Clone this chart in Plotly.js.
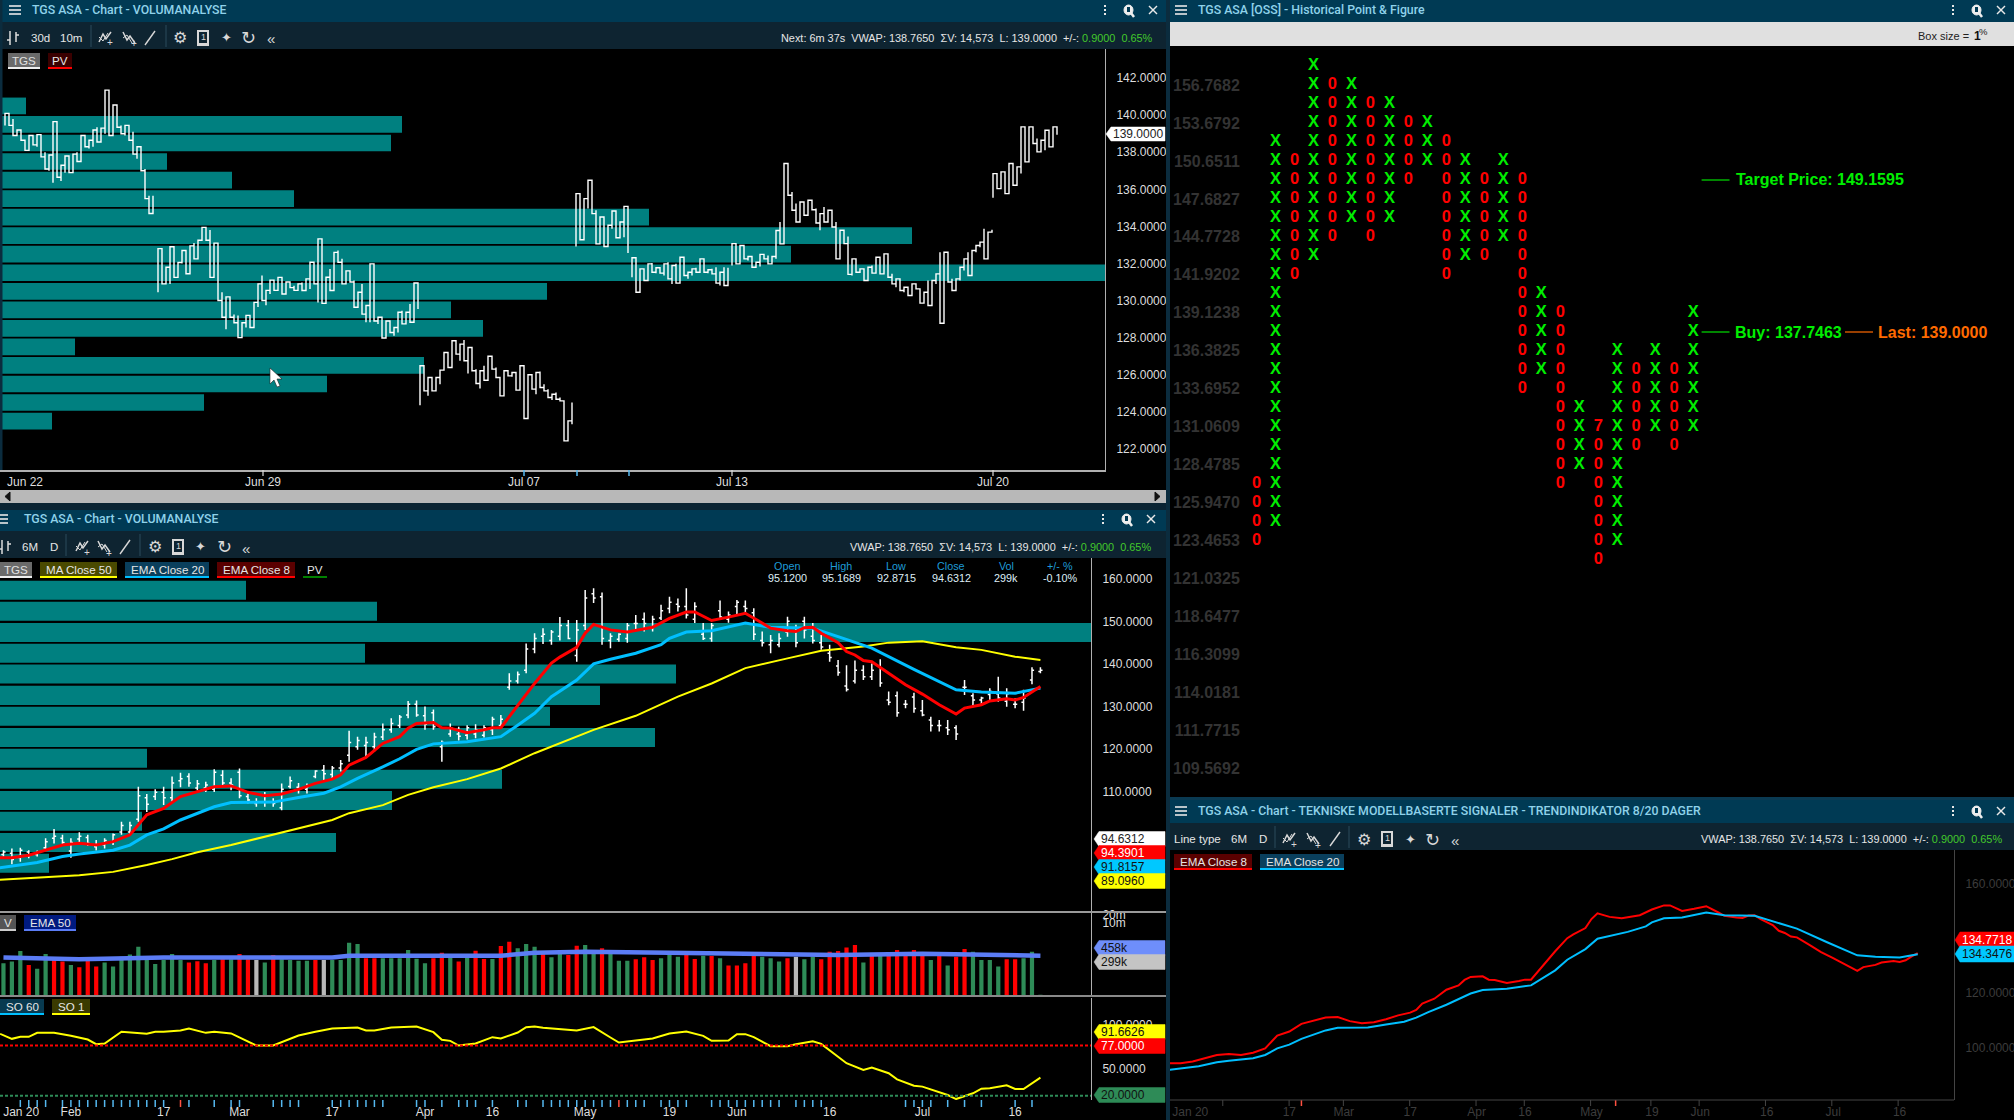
<!DOCTYPE html>
<html><head><meta charset="utf-8">
<script src="https://cdn.plot.ly/plotly-3.0.1.min.js"></script>
<style>html,body{margin:0;padding:0;background:#000}#c{width:2014px;height:1120px}</style>
</head><body><div id="c"></div>
<script>
// ---------- Top-left: 10-minute bars by session (high / low) ----------
const sessionStart=[5,158,420,576,632,732,993];
const hi1=[140.1,139.8,139.8,139.2,139.1,138.65,138.9,138.95,138.95,138.4,138.0,137.85,139.65,137.85,137.3,137.8,137.3,137.9,138.0,138.9,138.75,138.65,139.2,139.35,139.3,141.35,140.1,140.55,140.35,139.45,139.45,139.1,139.1,138.3,137.75,137.1,135.65,135.65];
const lo1=[139.45,139.45,138.9,138.9,138.65,138.1,138.15,138.4,138.3,137.75,137.1,137.0,136.35,136.65,136.45,136.9,136.9,137.2,137.5,137.65,138.3,138.2,138.3,138.55,139.1,139.0,138.9,138.9,139.35,139.0,138.9,138.65,137.9,137.65,137.0,135.5,134.7,134.7];
const hi2=[132.8,131.8,131.8,132.9,131.9,132.05,132.7,132.5,132.95,133.1,133.25,133.95,133.8,133.8,133.1,132.25,130.45,130.2,129.35,129.25,129.2,128.8,129.2,129.1,129.9,130.9,131.35,130.55,131.1,131.1,131.25,131.1,131,131,130.8,130.9,130.98,131.17,132.07,131.6,133.33,131.53,131.26,131.7,132.6,132.7,132.25,131.6,131.6,131.08,130.45,130.9,129.73,131.98,129.82,129.1,128.82,128.9,128.74,128.55,129.37,129.45,129.37,129.82,130.95,130.35];
const lo2=[130.45,130.9,130.9,130.9,131.25,131.8,132.0,131.45,132.4,132.25,132.7,133.25,133.25,131.25,131.8,130,129.1,128.45,129.1,128.8,128.0,128.1,128.55,128.55,129.1,129.65,130,129.75,130.35,130.55,130.8,130.35,130.7,130.7,130.55,130.55,130.54,130.8,130.63,130.9,129.9,129.85,130.72,130.54,131.62,132.07,130.9,130.9,131,129.64,129.64,129.27,128.83,128.83,128.9,128.74,127.98,128.46,128.28,128.1,128.28,128.74,128.9,128.83,129.5,129.55];
const hi3=[126.48,126.07,125.85,125.85,125.85,126.25,127.2,127,127.83,127.83,127.65,127.87,127.47,127.47,126.3,126.21,126.48,127,126.57,126.39,125.85,126.21,126.21,126.12,126.12,126.48,125.49,126,125.94,126.12,126.18,125.49,125.22,124.95,125.04,124.77,123.55,123.51,124.5];
const lo3=[124.35,125.13,124.86,125.13,125.49,125.49,126.39,126.39,126.39,127.11,126.75,126.75,126.07,126.21,125.53,125.26,125.7,126.39,126.3,125.85,124.86,125.35,125.94,125.89,125.17,125.49,123.64,124.8,125.22,124.95,125.31,125.13,124.77,124.63,124.68,124.59,122.43,122.57,123.33];
const hi4=[135.77,134.87,135.5,136.49,136.13,134.87,134.51,134.06,134.06,134.83,134.33,134.24,135.08,134.38];
const lo4=[132.92,133.28,133.5,134.96,134.69,133.06,133.79,132.92,133.15,133.87,133.39,133.39,133.42,132.56];
const hi5=[132.31,131.71,131.71,131.53,131.98,132.02,131.77,131.71,131.98,132.07,131.89,131.98,132.34,131.98,131.53,131.71,131.77,132.25,131.98,131.66,131.71,131.8,131.53,131.8,131.77];
const lo5=[131.26,130.45,131.26,131.08,131.26,131.53,131.48,131.48,131.35,131.17,130.9,130.94,130.94,131.35,131.17,131.35,131.53,131.71,131.53,131.48,131.44,130.94,130.81,130.81,130.81];
const hi6=[133.07,132.88,132.97,132.61,132.38,132.34,132.07,132.49,132.52,132.43,132.38,133.78,134.24,137.39,136.22,135.86,135.23,135.32,135.23,135.41,135.41,134.96,134.69,135.05,134.87,134.69,134.24,133.79,133.79,133.46,132.25,131.8,131.71,131.66,131.8,131.89,132.34,132.34,132.52,132.52,131.44,131.17,130.81,130.72,130.63,130.9,130.9,130.63,130.45,131.08,131.08,131.44,132.61,132.61,131.71,131.17,131.17,131.8,132.25,132.61,132.7,132.97,133.15,133.87,133.69,133.82];
const lo6=[131.89,131.98,132.34,132.25,132.16,131.8,131.84,131.84,132.25,131.98,132.25,132.25,133.06,135.59,135.68,134.87,134.24,134.69,134.6,134.6,134.9,134.18,133.79,134.24,134.24,133.97,132.25,132.52,133.07,131.41,131.35,131.53,131.53,131.08,131.53,131.48,131.44,131.44,131.44,131.26,130.9,130.72,130.54,130.45,130.27,130.54,130.63,129.86,129.91,129.73,130.36,130.9,128.78,131.44,131,130.54,130.72,131.08,131.62,131.35,132.52,132.61,132.88,132.25,132.88,133.7];
const hi7=[136.85,136.85,136.94,136.85,137.39,137.03,137.21,139.37,139.19,139.37,139.19,138.74,138.65,139.19,139.19,139.37,139.01];
const lo7=[135.55,136.04,136.22,135.77,136.49,136.22,136.85,136.85,137.48,138.2,138.47,138.02,138.02,138.11,138.29,138.97,138.94];
const vpAPrice=[140.5,139.5,138.5,137.5,136.5,135.5,134.5,133.5,132.5,131.5,130.5,129.5,128.5,127.5,126.5,125.5,124.5,123.5];
const vpAVol=[26,402,391,167,232,294,649,912,791,1105,547,451,483,75,424,327,204,52];
const aTickVals=[25,263,524,732,993];
const aTickText=['Jun 22','Jun 29','Jul 07','Jul 13','Jul 20'];
const aPriceTicks=[122,124,126,128,130,132,134,136,138,140,142];

// ---------- Middle-left: daily OHLC, indexed by trading day ----------
const dOpen=[95.2,95.5,94.5,95.8,95.2,96.8,99,99,96,98.8,99.2,97,97.5,98.2,100.5,100.5,103.5,108.5,108.8,109.8,108.5,112.5,113.5,110.8,110.8,110.5,113.8,112,114.5,108.8,107.2,107.5,107.5,106.2,111.2,111,110.5,113.5,115,114,115.5,118.5,120.5,120.8,120.5,122.8,124.5,125.5,128,130.5,127.8,128.5,120.5,123.5,123.5,123.2,123.5,123.2,124.5,125.5,134.5,136,138.5,143.5,146.5,145.5,146.5,149,142,149,156.5,155.8,145.5,145.8,146,149.5,150.5,148.5,150.8,153,154,153.5,150.5,147,146,152.5,150.5,153.5,153.5,152,145.5,144.5,144.5,147.5,148.5,150,146.5,145,142.5,139.5,134.8,136,138.5,137,139.5,131.5,132.5,130.5,132.2,129,126.8,125.5,125,125,134.5,132.5,131.5,132.8,133,131.2,130.5,131,136.2,138.2];
const dHigh=[96.2,96.6,96.8,96.2,96.1,99,101.2,99.8,99,100.4,99.8,98.6,99,100.1,102.9,102.9,111.1,109.4,110.5,111.1,113.5,114.4,114.3,112.7,112.3,115.2,115,113.1,115.4,109.5,108.4,109.9,108.4,111.9,113.5,112,111.9,115,116.2,116,117.4,124.3,122.9,122.9,123.8,126,127.2,128,131.3,131.4,130,129.3,122,126,125.2,125.6,125.8,125.6,127.6,128,137.8,138.2,144.8,147.2,148.4,148,151,150.3,150.3,157.4,157.8,156.8,147.2,147.2,149.6,151.5,152.1,151.3,153.9,155.8,155.4,157.8,154.5,149.6,149.6,154.9,152.3,155,154.9,153.1,147.6,146.8,147.2,151.1,149.2,151.1,149.6,146.8,144.5,140.9,139.7,140.8,139.7,140.1,141.1,133.5,133.5,131.5,133.2,131.5,127.6,126.8,126.8,125.6,136.2,133.1,132.3,134.3,137,134.3,131.9,133.9,139.2,139.2];
const dLow=[94.7,92.9,93.5,94.3,94.7,96.2,97.8,97.4,94.4,97.8,97.2,96.1,96.6,97.4,99.8,99.8,102.9,105.2,108,106.8,107.6,111,111.1,110.3,109.9,109.9,111.1,110.3,108.4,107.2,106.4,106.4,106.4,105.6,110.7,109.5,109.5,113.1,112.7,113.1,114.7,117,119.8,118.2,119.4,122.1,123.8,124.9,127.2,127.6,124.5,124.5,117,122.9,122,122.2,122.5,122.7,123.3,124.9,133.9,135.4,137.8,142.5,144.7,144.5,145.5,145.8,140.5,148,154.3,144.5,143.7,145.2,145,148,147.6,147.6,150.3,151.9,152.3,150.7,149.6,145.6,145.2,150.3,149.7,151.5,151.9,145.6,144.1,142.5,143.9,146.4,143.9,146,144.8,143.3,140.5,137.2,133.5,135.4,136.2,136.2,134.6,130.3,127.6,129.6,128.5,127.7,124.1,124.1,123.3,122.1,132.7,130.3,130.3,131.1,131.1,129.9,129.6,129,135.2,137.8];
const dClose=[95.8,94,96.2,95,95.8,98.2,99.5,98,98,99.5,97.8,97.5,98.5,99.8,102,102,109,107,109.8,108.5,112,113,112,111.8,111.5,114.5,112,111.5,109,108,107.5,107.5,107.2,110.5,112.5,110.5,111.2,114.8,114.2,115.5,116.5,121.5,122,121.5,122.8,124.5,126,127.5,130.5,128,125.8,125.2,121.5,125,123,125,124.5,125,127,127,136,137.5,143.5,146,147,147.5,149,146,148,155.5,155.5,146,146.5,147,149,149.5,149.5,150.5,152.5,154.5,153.5,151.5,153.5,146,149,151,151.5,154.5,153,147,145,145.5,146,150,145,148,145.5,144,141.5,138,134,138.5,137,138.5,135.5,131,128.5,130.5,129.5,128,125.5,125.5,124.5,123.5,134.5,131.5,132,133.5,132,133,130.5,132,138.5,138.5];
const ema8Idx=[0,2,4,6,8,10,12,14,16,18,20,22,24,26,28,30,32,34,36,38,40,41,42,44,46,48,49,50,52,53,54,56,58,59,60,62,64,66,67,69,70,71,73,75,78,80,82,83,85,87,89,91,92,94,95,96,97,98,100,101,102,103,104,106,108,110,112,114,115,117,118,120,121,122,123,124];
const ema8=[94.4,94.4,95,96.2,97.4,97.8,97.4,98.2,99.8,104.5,106,108.8,109.9,111.1,111.3,109.8,109,109.4,110.5,111.9,112.9,113.9,116.2,118,121.3,122.9,124.9,126,126.2,125,124.9,123.8,124.5,125,125,130.3,135.4,140.2,141.6,143.9,147.2,149.3,148,147.5,148.6,150.7,152.2,152.2,150.2,151,151.9,149.6,148.4,147.8,147.6,148.5,148.6,147.2,145,142.9,142.1,140.8,140.5,137.8,135.1,132.9,130.4,128.2,129.6,130.4,131.3,131.8,131.5,132.1,133.5,134.7];
const ema20Idx=[0,2,5,8,10,14,16,18,20,22,24,26,28,30,33,36,39,41,43,46,48,50,52,56,60,62,64,66,69,71,73,76,79,80,82,85,89,92,97,100,104,109,114,117,121,124];
const ema20=[91.9,92.5,93.3,94.7,95.3,96.2,97.4,99.8,101.2,103.3,104.9,106.4,107.4,107.4,107.5,108.6,109.6,111.1,113.1,115.8,117.7,119.9,121.2,121.7,122.9,125.6,128.4,132.3,136.2,140,141.1,142.5,144.5,146,147.5,147.8,149.6,148.6,148.4,146.4,143.7,138.7,133.9,133.4,133.1,134.3];
const ma50Idx=[0,6,10,14,18,21,24,28,32,36,40,42,46,49,52,56,60,64,67,71,76,81,85,89,94,98,103,106,110,114,117,121,124];
const ma50=[89.2,89.8,90.3,91.1,92.7,94.1,95.7,97.4,99.4,101.3,103.3,104.9,106.8,109.2,111,112.9,115.4,119,121.3,124.5,127.8,132.3,135.4,139,141.3,143.1,144.1,145,145.3,143.9,143.3,141.7,140.9];
const vpBPrice=[157.3,152.4,147.4,142.5,137.6,132.6,127.7,122.7,117.8,112.9,107.9,103,98,93.1];
const vpBVol=[246,377,1091,365,676,600,550,655,147,502,392,142,336,49];
const bPriceTicks=[110,120,130,140,150,160];

// ---------- Volume (thousands of shares) ----------
const volume=[306,355,880,265,190,680,408,355,265,215,408,230,325,230,544,660,1290,408,290,408,680,408,325,365,306,408,430,430,680,430,408,325,630,430,408,385,385,408,408,408,408,1820,1630,470,470,470,470,470,966,455,306,470,765,500,355,515,910,445,445,1360,1990,1120,1630,1290,830,515,725,630,1400,1490,966,1120,725,385,385,430,515,408,470,630,544,725,445,590,575,470,250,250,306,575,544,470,355,470,544,430,544,430,830,880,1210,1490,325,630,630,630,966,630,966,630,408,575,250,544,1050,830,408,408,230,430,430,470,830,20];
const volumeKind='gggrggrrgrrrggggggggggrrrgrgrrngrggggrnggggrrggggggrrgrgrrgrrgggrggrrggrgggrrrgggrrgrgrrrrgggrnggrrrrrgrgrrrrrgrgrrggggrrgg';
const volEmaIdx=[1,10,20,40,42,60,64,70,80,90,100,110,120,124];
const volEma=[500,430,500,500,590,590,765,830,765,700,630,700,630,590];

// ---------- Stochastic ----------
const soIdx=[0.6,2,3,4,5,7,9,11,12,13,15,17,18,19,20,22,23,25,26,28,30,31,33,36,38,40,43,44,45,47,50,52,53,54,55,57,59,60,62,63,64,65,69,71,73,74,78,80,82,84,85,87,88,89,90,92,94,95,97,98,101,103,104,106,107,109,110,113,114,116,117,118,120,121,122,124];
const so1=[90.3,84.6,86.9,86.9,91.4,91.4,88,83.8,78.5,79.3,92.6,91,90.3,92.6,92.6,94.1,96.4,91.4,92.6,90.7,81.9,77,77,88.4,92.6,96.4,97.5,94.1,94.1,97.5,98.7,92.2,83.5,82.3,77,79.3,86.5,85,91.8,97.9,98.7,97.1,94.1,97.9,86.1,80.4,85,90.7,93,88,82.3,82.7,89.9,89.9,86.5,76.2,76.2,78.5,81.9,78.9,56.9,49.3,51.9,45.5,38.6,31.4,30.3,20.8,16.2,22.7,28,28.4,31.8,27.6,27.6,40.5];
const soOverbought=77, soOversold=20;
const dateTickIdx=[3.1,9,20,29,40,51,59,70,80,88,99,110,121];
const dateTickText=['Jan 20','Feb','17','Mar','17','Apr','16','May','19','Jun','16','Jul','16'];
const brTickIdx=[3.6,20,29,40,51,59,70,80,88,99,110,121];
const brTickText=['Jan 20','17','Mar','17','Apr','16','May','19','Jun','16','Jul','16'];
const eventBlue=[3,4,5,6,8,9,10,11,12,13,14,15,16,17,18,19,20,23,26,28,29,33,34,35,36,40,41,42,43,44,45,46,50,51,53,55,56,57,59,62,63,65,66,67,68,69,70,71,72,73,75,76,77,79,80,81,82,85,86,87,88,89,90,91,92,93,95,96,97,98,108,109,110,111,113,115,117,121,123];
const eventRed=[22,74];

// ---------- Point & Figure ----------
const pfKind=['0','X','0','X','0','X','0','X','0','X','0','X','0','X','0','X','0','X','0','X','0','X','0','X'];
const pfTop=[15,33,32,37,36,36,35,35,34,34,33,32,31,32,31,25,24,19,18,22,21,22,21,24];
const pfBottom=[12,13,26,27,28,29,28,29,31,32,26,27,27,28,20,21,15,16,11,12,17,18,17,18];
const pfMonthMark={col:18,row:18,label:'7'};
const pfRowLabels=[109.5692,111.7715,114.0181,116.3099,118.6477,121.0325,123.4653,125.9470,128.4785,131.0609,133.6952,136.3825,139.1238,141.9202,144.7728,147.6827,150.6511,153.6792,156.7682];
const pfDateCols=[1.2,5.9,13.5,20.9];
const pfDateText=['Apr 26','May 26','Jun 26','Jul 26'];

// ---------- Page geometry ----------
const W=2014,H=1120;
const dx=(a,b)=>[a/W,b/W], dy=(a,b)=>[1-b/H,1-a/H];
const px=x=>x/W, py=y=>1-y/H;
const SANS='"Liberation Sans",Arial,sans-serif';
const HEADC='#003a54', TOOL='#0e2431', TXT='#e6e6e6', TITLE='#8fd2ea';
const shapes=[], annotations=[];
function rect(x0,y0,x1,y1,c){shapes.push({type:'rect',xref:'paper',yref:'paper',x0:px(x0),x1:px(x1),y0:py(y1),y1:py(y0),fillcolor:c,line:{width:0}});}
function seg(x0,y0,x1,y1,c,w,d){shapes.push({type:'line',xref:'paper',yref:'paper',x0:px(x0),x1:px(x1),y0:py(y0),y1:py(y1),line:{color:c,width:w||1,dash:d||'solid'}});}
function poly(pts,c,w,fill,close){const p=pts.map((q,i)=>(i?'L':'M')+px(q[0]).toFixed(5)+','+py(q[1]).toFixed(5)).join(' ')+(close?' Z':'');
 shapes.push({type:'path',xref:'paper',yref:'paper',path:p,line:{color:c,width:w||1},fillcolor:fill||'rgba(0,0,0,0)'});}
function txt(x,y,t,o){o=o||{};annotations.push({xref:'paper',yref:'paper',x:px(x),y:py(y),text:t,showarrow:false,xanchor:o.a||'left',yanchor:'middle',borderpad:0,borderwidth:0,
 font:{family:o.f||SANS,size:o.s||12,color:o.c||TXT,weight:o.w||'normal'}});}
function tag(x0,x1,yc,h,bg,t,tc){poly([[x0,yc],[x0+5,yc-h/2],[x1,yc-h/2],[x1,yc+h/2],[x0+5,yc+h/2]],bg,0.5,bg,true);txt(x0+7,yc,t,{s:12,c:tc});}
function chip(x0,x1,y0,y1,bg,ul,t,tc){rect(x0,y0,x1,y1,bg);rect(x0,y1-2,x1,y1,ul);txt((x0+x1)/2,(y0+y1)/2-1,t,{a:'center',s:11.6,c:tc||TXT});}
function burger(x,y){[-4,0,4].forEach(d=>seg(x-6,y+d,x+6,y+d,'#e8e8e8',1.6));}
function winBtns(x1,x2,x3,y){[-4,0,4].forEach(d=>rect(x1-1,y+d-1,x1+1,y+d+1,'#e8e8e8'));
 shapes.push({type:'circle',xref:'paper',yref:'paper',x0:px(x2-5),x1:px(x2+4),y0:py(y+5),y1:py(y-5),fillcolor:'#eee',line:{color:'#eee',width:1}});rect(x2-2,y-3,x2+1,y+2,HEADC);seg(x2+2,y+3,x2+5,y+7,'#eee',2.5);
 seg(x3-4,y-4,x3+4,y+4,'#e8e8e8',1.5);seg(x3-4,y+4,x3+4,y-4,'#e8e8e8',1.5);}
function candleIcon(x,y){seg(x-3,y-7,x-3,y+7,'#ddd',1.5);seg(x+3,y-6,x+3,y+4,'#ddd',1.5);seg(x-6,y+2,x-3,y+2,'#ddd',1.5);seg(x+3,y-3,x+6,y-3,'#ddd',1.5);}
function drawIcons(xs,y){ // up-trend, down-trend, pencil, gear, page, add, refresh, collapse
 const c='#d8d8d8';
 poly([[xs[0]-6,y+4],[xs[0]-2,y-4],[xs[0]+1,y+1],[xs[0]+6,y-6]],c,1.5);poly([[xs[0]-6,y-1],[xs[0]-2,y+3],[xs[0]+3,y-5]],c,1);txt(xs[0]+5,y+5,'+',{a:'center',s:10,c});
 poly([[xs[1]-6,y-6],[xs[1]-2,y+2],[xs[1]+1,y-2],[xs[1]+6,y+5]],c,1.5);poly([[xs[1]-6,y],[xs[1]-2,y-3],[xs[1]+3,y+5]],c,1);txt(xs[1]+5,y+6,'+',{a:'center',s:10,c});
 seg(xs[2]-5,y+7,xs[2]+5,y-7,c,1.4);
 txt(xs[3],y,'\u2699',{a:'center',s:16,c,f:'"DejaVu Sans"'});
 rect(xs[4]-6,y-8,xs[4]+6,y+8,'#d8d8d8');rect(xs[4]-4,y-6,xs[4]+4,y+5,TOOL);txt(xs[4],y-1,'1',{a:'center',s:9,c});
 txt(xs[5],y,'\u2726',{a:'center',s:13,c,f:'"DejaVu Sans"'});
 txt(xs[6],y,'\u21BB',{a:'center',s:18,c,f:'"DejaVu Sans"'});
 txt(xs[7],y+1,'\u00AB',{a:'center',s:15,c});
}
const green='#43c92b';
const TS=12.3;
function title(x,y,t){txt(x,y,t,{s:TS,c:TITLE,f:'Roboto,'+SANS,w:500});}
function quote(x,y,pre){txt(x,y,pre+'VWAP: 138.7650  \u03A3V: 14,573  L: 139.0000  +/-: <span style="color:'+green+'">0.9000  0.65%</span>',{a:'right',s:10.9});}

// ---------- Chrome ----------
rect(0,0,1166,22,HEADC);rect(0,22,1166,49,TOOL);
rect(0,503,1166,510,'#0b2433');rect(0,510,1166,531,HEADC);rect(0,531,1166,558,TOOL);
rect(1166,0,1170,1120,'#0b2c3e');
rect(1170,0,2014,22,HEADC);rect(1170,22,2014,46,'#e0e0e0');
rect(1170,797,2014,800,'#0a3a52');rect(1170,800,2014,823,HEADC);rect(1170,823,2014,850,TOOL);
rect(0,0,2.5,470,'#0b2c3e');
// top-left chrome
burger(15,10);title(32,10,'TGS ASA - Chart - VOLUMANALYSE');winBtns(1105,1129,1153,10);
candleIcon(13,38);txt(31,38,'30d',{s:11.5});txt(60,38,'10m',{s:11.5});seg(91,25,91,47,'#2a4a5c',1);seg(166,25,166,47,'#2a4a5c',1);
drawIcons([105,129,150,180,203,226,248,271],38);
quote(1153,38,'Next: 6m 37s  ');
chip(8,40,53,69,'#6a6a6a','#eee','TGS','#e0e0e0');chip(48,72,53,69,'#3a0000','#f00','PV','#e8e8e8');
tag(1106,1165,134,14,'#ffffff','139.0000','#222');
// scrollbar
rect(0,490,1166,503,'#b8b8b8');poly([[10,492],[5,496.5],[10,501]],'#111',1,'#111',true);poly([[1155,492],[1160,496.5],[1155,501]],'#111',1,'#111',true);
[263,732,993].forEach(x=>seg(x,470,x,476,'#dddddd',1.2));
[524,577,629].forEach(x=>seg(x,470,x,476,'#55b8f0',1.5));
// cursor
poly([[270,368],[270,384],[274,380],[277,387],[280,386],[277,379],[282,379]],'#222',0.6,'#fff',true);
// mid-left chrome
burger(2,519);title(24,519,'TGS ASA - Chart - VOLUMANALYSE');winBtns(1103,1127,1151,519);
candleIcon(5,547);txt(22,547,'6M',{s:11.5});txt(50,547,'D',{s:11.5});seg(66,534,66,556,'#2a4a5c',1);seg(140,534,140,556,'#2a4a5c',1);
drawIcons([82,104,125,155,178,200,224,246],547);
quote(1151,547,'');
chip(0,32,562,578,'#6a6a6a','#eee','TGS','#e0e0e0');chip(40,117,562,578,'#4a4a00','#ff0','MA Close 50');chip(125,209,562,578,'#0a3f5c','#00bfff','EMA Close 20');chip(217,295,562,578,'#5a0000','#f00','EMA Close 8');chip(303,327,562,578,'#000','#008000','PV');
['Open','High','Low','Close','Vol','+/- %'].forEach((t,i)=>txt([787,841,896,951,1006,1060][i],566,t,{a:'center',s:10.8,c:'#1e9bd7'}));
['95.1200','95.1689','92.8715','94.6312','299k','-0.10%'].forEach((t,i)=>txt([787,841,896,951,1006,1060][i],578,t,{a:'center',s:10.8,c:'#dfeef7'}));
tag(1094,1165,839,15,'#ffffff','94.6312','#222');tag(1094,1165,853,15,'#ff0000','94.3901','#fff');tag(1094,1165,867,15,'#00c8ff','91.8157','#111');tag(1094,1165,881,15,'#ffff00','89.0960','#111');
rect(0,911,1166,913,'#9a9a9a');rect(0,995,1166,997,'#8a8a8a');
chip(0,16,915,931,'#555','#ccc','V');chip(24,76,915,931,'#001a80','#5b7cf5','EMA 50');
chip(0,44,999,1015,'#083a50','#00bfff','SO 60');chip(52,90,999,1015,'#3a3a00','#ff0','SO 1');
tag(1094,1165,948,15,'#6e8efb','458k','#111');tag(1094,1165,962,15,'#c4c4c4','299k','#111');
tag(1094,1165,1032,15,'#ffff00','91.6626','#111');tag(1094,1165,1046,15,'#ff0000','77.0000','#fff');tag(1094,1165,1095,15,'#2e8b57','20.0000','#111');
// P&F chrome
burger(1181,10);title(1198,10,'TGS ASA [OSS] - Historical Point & Figure');winBtns(1953,1977,2001,10);
txt(1918,36,'Box size = ',{s:11,c:'#222'});txt(1974,36,'1',{s:12,c:'#111',w:700});txt(1979,31,'%',{s:9.5,c:'#222'});
seg(1701.6,180,1729.5,180,'#00e000',1.2);txt(1736,180,'Target Price: 149.1595',{s:16,c:'#00ee00',w:700});
seg(1701.6,332,1729.5,332,'#00e000',1.2);txt(1735,332,'Buy: 137.7463',{s:16,c:'#00ee00',w:700});
seg(1845,332,1873,332,'#ff6a00',1.2);txt(1878,332,'Last: 139.0000',{s:16,c:'#ff6a00',w:700});
// bottom-right chrome
burger(1181,811);title(1198,811,'TGS ASA - Chart - TEKNISKE MODELLBASERTE SIGNALER - TRENDINDIKATOR 8/20 DAGER');winBtns(1953,1977,2001,811);
txt(1174,839,'Line type',{s:11.5});txt(1231,839,'6M',{s:11.5});txt(1259,839,'D',{s:11.5});seg(1275,826,1275,848,'#2a4a5c',1);seg(1349,826,1349,848,'#2a4a5c',1);
drawIcons([1289,1313,1335,1364,1387,1410,1432,1455],839);
quote(2002,839,'');
chip(1174,1252,854,870,'#5a0000','#f00','EMA Close 8');chip(1260,1344,854,870,'#0a3f5c','#00bfff','EMA Close 20');
tag(1955,2014,940,16,'#ff0000','134.7718','#fff');tag(1955,2014,954,16,'#00c8ff','134.3476','#111');

// ---------- Traces ----------
const traces=[];
const tickFont={family:SANS,size:12,color:'#dedede'};
const bRange=[0.59,130.0];
// 10-minute bars: one continuous stepped line per session
const hiAll=[hi1,hi2,hi3,hi4,hi5,hi6,hi7], loAll=[lo1,lo2,lo3,lo4,lo5,lo6,lo7];
const ax=[],ay=[];
hiAll.forEach((hs,s)=>{let prev=null;hs.forEach((h,i)=>{const l=loAll[s][i],x=sessionStart[s]+4*i;
  const up=prev===null||Math.abs(prev-l)<=Math.abs(prev-h);
  ax.push(x,x);ay.push(up?l:h,up?h:l);prev=up?h:l;});ax.push(null);ay.push(null);});
traces.push({type:'bar',orientation:'h',x:vpAVol,y:vpAPrice,width:0.9,marker:{color:'#008080',line:{width:0}},xaxis:'x',yaxis:'y'});
traces.push({type:'scatter',mode:'lines',x:ax,y:ay,line:{color:'#fff',width:1.4,shape:'hv'},connectgaps:false,xaxis:'x',yaxis:'y'});
// daily panel: volume profile shares the day axis, scaled to span it
const dayIdx=dHigh.map((_,i)=>i+1);
const vpScale=(bRange[1]-bRange[0])/Math.max(...vpBVol);
traces.push({type:'bar',orientation:'h',x:vpBVol.map(v=>v*vpScale),y:vpBPrice,base:bRange[0],width:4.47,marker:{color:'#008080',line:{width:0}},xaxis:'x2',yaxis:'y2'});
traces.push({type:'ohlc',x:dayIdx,open:dOpen,high:dHigh,low:dLow,close:dClose,increasing:{line:{color:'#fff',width:1.5}},decreasing:{line:{color:'#fff',width:1.5}},tickwidth:0.25,xaxis:'x2',yaxis:'y2'});
traces.push({type:'scatter',mode:'lines',x:ma50Idx,y:ma50,line:{color:'#ffff00',width:2},xaxis:'x2',yaxis:'y2'});
traces.push({type:'scatter',mode:'lines',x:ema20Idx,y:ema20,line:{color:'#00bfff',width:3},xaxis:'x2',yaxis:'y2'});
traces.push({type:'scatter',mode:'lines',x:ema8Idx,y:ema8,line:{color:'#ff0000',width:3},xaxis:'x2',yaxis:'y2'});
// volume
const kindColor={g:'#2e8b57',r:'#ff0000',n:'#b8b8b8'};
traces.push({type:'bar',x:dayIdx,y:volume,width:0.5,marker:{color:volume.map((_,i)=>kindColor[volumeKind[i]||'g']),line:{width:0}},xaxis:'x3',yaxis:'y3'});
traces.push({type:'scatter',mode:'lines',x:volEmaIdx,y:volEma,line:{color:'#5b7cf5',width:4.5},xaxis:'x3',yaxis:'y3'});
// stochastic
traces.push({type:'scatter',mode:'lines',x:soIdx,y:so1,line:{color:'#ffff00',width:2},xaxis:'x4',yaxis:'y4'});
traces.push({type:'scatter',mode:'markers',x:eventBlue,y:eventBlue.map(()=>0.5),marker:{symbol:'line-ns',size:7,line:{color:'#55b8f0',width:1.5}},xaxis:'x4',yaxis:'y7'});
traces.push({type:'scatter',mode:'markers',x:eventRed,y:eventRed.map(()=>0.5),marker:{symbol:'line-ns',size:7,line:{color:'#ff5040',width:1.5}},xaxis:'x4',yaxis:'y7'});
// P&F
const pfX=[],pfY=[],pfT=[],pfC=[];
pfKind.forEach((k,c)=>{for(let r=pfBottom[c];r<=pfTop[c];r++){pfX.push(c);pfY.push(r);
  const special=c===pfMonthMark.col&&r===pfMonthMark.row;pfT.push(special?pfMonthMark.label:k);pfC.push(k==='X'?'#00ee00':'#ff0000');}});
traces.push({type:'scatter',mode:'text',x:pfX,y:pfY,text:pfT,textposition:'middle center',textfont:{family:SANS,size:16.5,color:pfC,weight:700},cliponaxis:false,xaxis:'x5',yaxis:'y5'});
// bottom-right
traces.push({type:'scatter',mode:'lines',x:ema8Idx,y:ema8,line:{color:'#ff0000',width:2},xaxis:'x6',yaxis:'y6'});
traces.push({type:'scatter',mode:'lines',x:ema20Idx,y:ema20,line:{color:'#00bfff',width:2},xaxis:'x6',yaxis:'y6'});
traces.push({type:'scatter',mode:'markers',x:eventRed,y:eventRed.map(()=>0.5),marker:{symbol:'line-ns',size:6,line:{color:'#ff5040',width:1.5}},xaxis:'x6',yaxis:'y8'});

// shapes on data axes
[[soOverbought,'#ff0000'],[soOversold,'#2e8b57']].forEach(q=>shapes.push({type:'line',xref:'paper',yref:'y4',x0:0,x1:px(1091),y0:q[0],y1:q[0],line:{color:q[1],width:2,dash:'3px,2px'}}));

const none={showgrid:false,zeroline:false,showline:false,fixedrange:true};
const layout={width:W,height:H,margin:{l:0,r:0,t:0,b:0},paper_bgcolor:'#000',plot_bgcolor:'#000',showlegend:false,barmode:'overlay',hovermode:false,shapes,annotations,
 xaxis:{...none,domain:dx(0,1105),range:[0,1105],anchor:'y',showline:true,linecolor:'#b0b0b0',linewidth:1.5,tickmode:'array',tickvals:aTickVals,ticktext:aTickText,ticks:'',tickfont:tickFont},
 yaxis:{...none,domain:dy(49,470),range:[120.86,143.57],side:'right',anchor:'x',showline:true,linecolor:'#b0b0b0',tickmode:'array',tickvals:aPriceTicks,tickformat:'.4f',ticks:'outside',ticklen:8,tickcolor:'rgba(0,0,0,0)',tickfont:tickFont},
 xaxis2:{...none,domain:dx(0,1091),range:bRange,anchor:'y2',showticklabels:false,rangeslider:{visible:false}},
 yaxis2:{...none,domain:dy(558,911),range:[81.9,164.9],side:'right',anchor:'x2',showline:true,linecolor:'#b0b0b0',tickmode:'array',tickvals:bPriceTicks,tickformat:'.4f',ticks:'outside',ticklen:8,tickcolor:'rgba(0,0,0,0)',tickfont:tickFont},
 xaxis3:{...none,domain:dx(0,1091),range:bRange,anchor:'y3',showticklabels:false},
 yaxis3:{...none,domain:dy(913,996),type:'log',range:[1.256,4.376],side:'right',anchor:'x3',showline:true,linecolor:'#b0b0b0',tickmode:'array',tickvals:[10000,20000],ticktext:['10m','20m'],ticks:'outside',ticklen:8,tickcolor:'rgba(0,0,0,0)',tickfont:tickFont},
 xaxis4:{...none,domain:dx(0,1091),range:bRange,anchor:'y4',tickmode:'array',tickvals:dateTickIdx,ticktext:dateTickText,tickfont:tickFont,ticks:'outside',ticklen:1,tickcolor:'rgba(0,0,0,0)'},
 yaxis4:{...none,domain:dy(998,1100),range:[15.1,131],side:'right',anchor:'x4',showline:true,linecolor:'#b0b0b0',tickmode:'array',tickvals:[50,100],tickformat:'.4f',ticks:'outside',ticklen:8,tickcolor:'rgba(0,0,0,0)',tickfont:tickFont},
 yaxis7:{...none,domain:dy(1100,1107),range:[0,1],anchor:'x4',showticklabels:false},
 xaxis5:{...none,domain:dx(1251,2015),range:[-0.29,39.9],anchor:'y5',tickmode:'array',tickvals:pfDateCols,ticktext:pfDateText,ticks:'',tickfont:{family:SANS,size:16,color:'#333',weight:700}},
 yaxis5:{...none,domain:dy(47,798),range:[-1.55,38],anchor:'x5',tickmode:'array',tickvals:pfRowLabels.map((_,i)=>i*2),ticktext:pfRowLabels.map(v=>v.toFixed(4)),ticks:'outside',ticklen:7,tickcolor:'rgba(0,0,0,0)',tickfont:{family:SANS,size:16,color:'#333',weight:700}},
 xaxis6:{...none,domain:dx(1170,1954),range:[0.25,130.0],anchor:'y6',tickmode:'array',tickvals:brTickIdx,ticktext:brTickText,ticks:'outside',ticklen:1,tickcolor:'rgba(0,0,0,0)',tickfont:{family:SANS,size:12,color:'#3c3c3c'}},
 yaxis6:{...none,domain:dy(850,1100),range:[80.9,172.5],side:'right',anchor:'x6',showline:true,linecolor:'#444',tickmode:'array',tickvals:[100,120,160],tickformat:'.4f',ticks:'outside',ticklen:8,tickcolor:'rgba(0,0,0,0)',tickfont:{family:SANS,size:12,color:'#3c3c3c'}},
 yaxis8:{...none,domain:dy(1100,1106),range:[0,1],anchor:'x6',showticklabels:false}
};
seg(1170,1100,1954,1100,'#444',1);
dateTickIdx.slice(1).forEach(i=>seg(1168.5+6.03*i,1100,1168.5+6.03*i,1106,'#444',1));
Plotly.newPlot('c',traces,layout,{displayModeBar:false,staticPlot:true,responsive:false});
</script></body></html>
